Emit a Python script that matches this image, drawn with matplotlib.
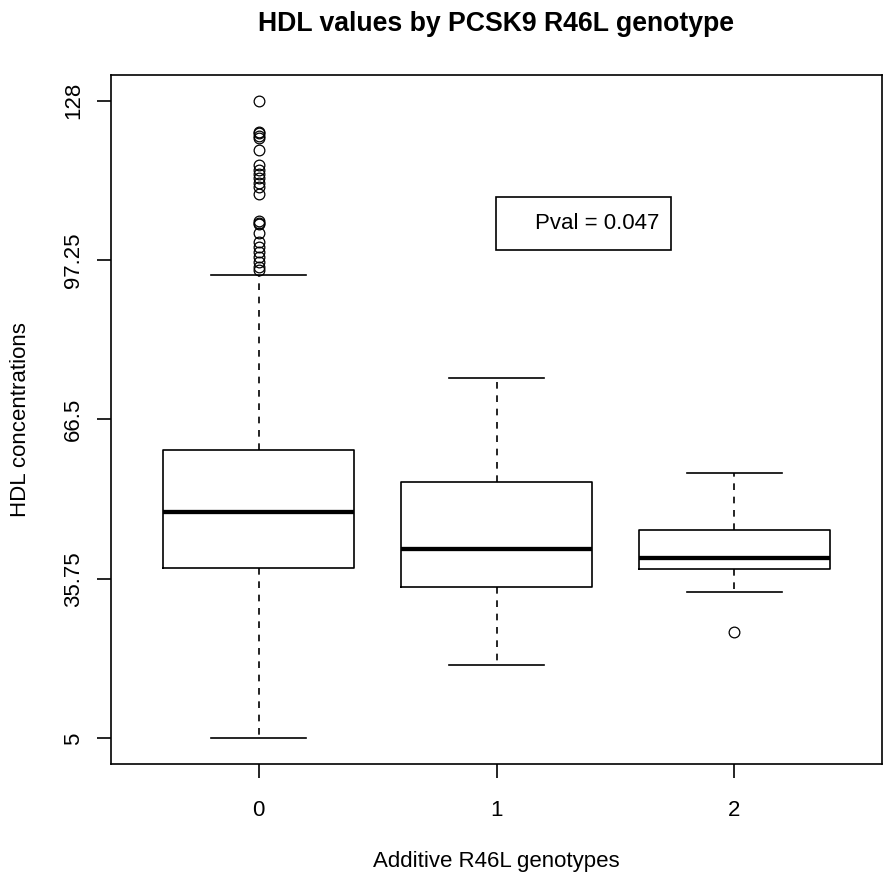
import matplotlib
matplotlib.use("Agg")
import matplotlib.pyplot as plt
from matplotlib.patches import Rectangle

plt.rcParams['font.family'] = ['Liberation Sans', 'DejaVu Sans']

# genotype groups and box stats
genotypes = ['0', '1', '2']
q1 = [37.9, 34.3, 37.7]
med = [48.7, 41.6, 39.8]
q3 = [60.6, 54.4, 45.2]
whislo = [5.0, 19.2, 33.3]
whishi = [94.3, 74.5, 56.2]
outliers = [
    [128, 122, 121.7, 121.2, 120.7, 118.5, 115.6, 114.6, 113.8, 113, 112.1,
     111.3, 110, 104.8, 104.4, 104.1, 102.4, 100.8, 99.8, 98.8, 97.9, 96.9,
     95.9, 95.3],
    [],
    [25.6],
]
yticks = [5, 35.75, 66.5, 97.25, 128]
ytick_labels = ['5', '35.75', '66.5', '97.25', '128']
pval_text = 'Pval = 0.047'

W, H = 892, 882
fig = plt.figure(figsize=(W / 100, H / 100), dpi=100)
ax = fig.add_axes([111 / W, 1 - 764 / H, 771 / W, 689 / H])

stats = []
for i in range(len(genotypes)):
    stats.append(dict(q1=q1[i], med=med[i], q3=q3[i], whislo=whislo[i],
                      whishi=whishi[i], fliers=outliers[i], label=genotypes[i]))

lw = 1.2
ax.bxp(stats, positions=range(len(genotypes)), widths=0.8,
       boxprops=dict(color='black', linewidth=lw),
       whiskerprops=dict(color='black', linewidth=lw, linestyle=(0, (4, 4))),
       capprops=dict(color='black', linewidth=lw),
       medianprops=dict(color='black', linewidth=3.1, solid_capstyle='butt'),
       flierprops=dict(marker='o', markerfacecolor='none', markeredgecolor='black',
                       markersize=7.7, markeredgewidth=0.9))

# R style 4% padding on both axes
ax.set_xlim(-0.62, 2.62)
lo, hi = min(whislo), max(max(o) for o in outliers if o)
pad = 0.04 * (hi - lo)
ax.set_ylim(lo - pad, hi + pad)

ax.set_yticks(yticks)
ax.set_yticklabels(ytick_labels)
ax.set_xticks(range(len(genotypes)))
ax.set_xticklabels(genotypes)
for s in ax.spines.values():
    s.set_linewidth(lw)
ax.tick_params(axis='both', length=10, width=lw, labelsize=16)
ax.tick_params(axis='y', pad=9.6)
ax.tick_params(axis='x', pad=16)
for t in ax.get_yticklabels():
    t.set_rotation(90)
    t.set_va('center')

ax.add_patch(Rectangle((0.499, 0.746), 0.227, 0.077, transform=ax.transAxes,
                       fill=False, edgecolor='black', linewidth=lw))
ax.text(0.711, 0.7845, pval_text, transform=ax.transAxes, ha='right',
        va='center', fontsize=16)

fig.text(496.5 / W, 1 - 30.7 / H, 'HDL values by PCSK9 R46L genotype',
         ha='center', va='baseline', fontsize=19.2, fontweight='bold')
fig.text(496.5 / W, 1 - 866.7 / H, 'Additive R46L genotypes',
         ha='center', va='baseline', fontsize=16)
fig.text(20.4 / W, 1 - 419.5 / H, 'HDL concentrations', rotation=90,
         ha='center', va='center', fontsize=16)

fig.savefig('out.png', dpi=100)
